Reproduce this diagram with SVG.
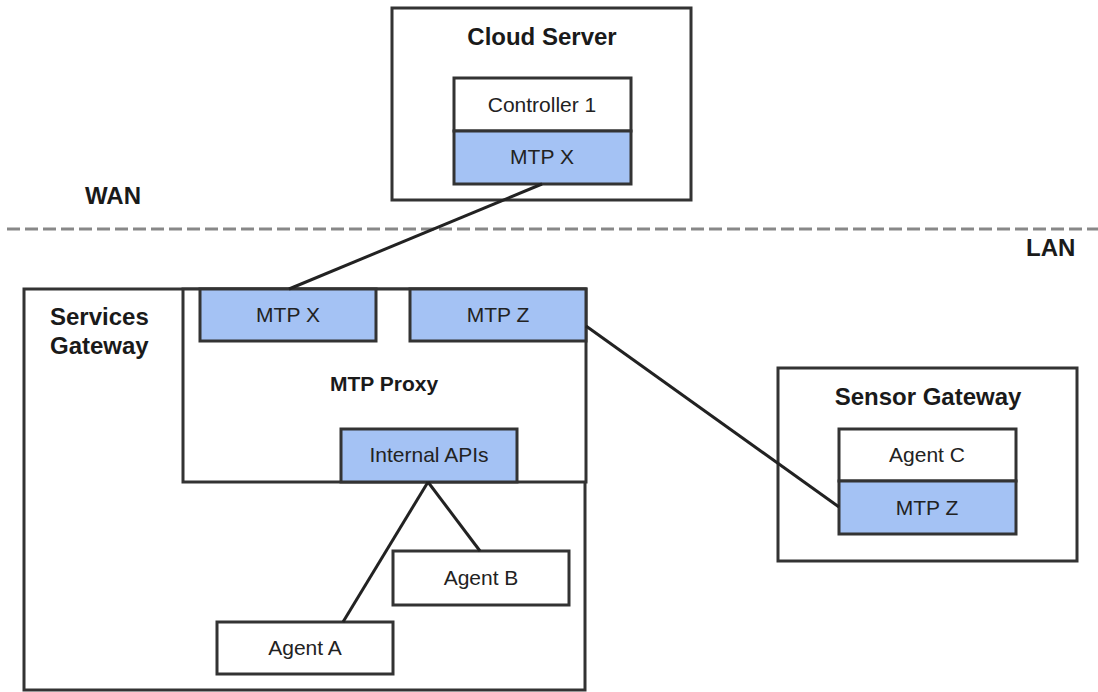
<svg xmlns="http://www.w3.org/2000/svg" width="1098" height="692" viewBox="0 0 1098 692">
<style>
.box{fill:#ffffff;stroke:#333333;stroke-width:3}
.mtp{fill:#a4c2f4;stroke:#333333;stroke-width:3}
.t{font-family:"Liberation Sans",Arial,sans-serif;font-size:21px;fill:#222222;text-anchor:middle}
.b{font-family:"Liberation Sans",Arial,sans-serif;font-weight:bold;font-size:24px;fill:#1a1a1a}
.c{text-anchor:middle}
.link{stroke:#222222;stroke-width:3;fill:none}
</style>
<rect width="1098" height="692" fill="#ffffff"/>
<g id="zones">
<line x1="7" y1="229" x2="1098" y2="229" stroke="#888888" stroke-width="3" stroke-dasharray="13 5"/>
<text class="b" x="85" y="204">WAN</text>
<text class="b" x="1026" y="256">LAN</text>
</g>
<g id="cloud-server">
<rect class="box" x="392" y="8" width="299" height="192"/>
<text class="b c" x="542" y="45">Cloud Server</text>
</g>
<g id="controller-1">
<rect class="box" x="454" y="78" width="177" height="53"/>
<text class="t" x="542" y="112">Controller 1</text>
</g>
<g id="cloud-mtp-x">
<rect class="mtp" x="454" y="131" width="177" height="53"/>
<text class="t" x="542" y="164">MTP X</text>
</g>
<g id="services-gateway">
<rect class="box" x="24" y="289" width="561" height="401"/>
<text class="b" x="50" y="325">Services</text>
<text class="b" x="50" y="354">Gateway</text>
</g>
<g id="mtp-proxy">
<rect class="box" x="183" y="289" width="403" height="193"/>
<text class="b c" x="384" y="391" style="font-size:21px">MTP Proxy</text>
</g>
<g id="proxy-mtp-x">
<rect class="mtp" x="200" y="289" width="176" height="52"/>
<text class="t" x="288" y="322">MTP X</text>
</g>
<g id="proxy-mtp-z">
<rect class="mtp" x="410" y="289" width="176" height="52"/>
<text class="t" x="498" y="322">MTP Z</text>
</g>
<g id="internal-apis">
<rect class="mtp" x="341" y="429" width="176" height="53"/>
<text class="t" x="429" y="462">Internal APIs</text>
</g>
<g id="agent-b">
<rect class="box" x="393" y="551" width="176" height="54"/>
<text class="t" x="481" y="585">Agent B</text>
</g>
<g id="agent-a">
<rect class="box" x="217" y="622" width="176" height="52"/>
<text class="t" x="305" y="655">Agent A</text>
</g>
<g id="sensor-gateway">
<rect class="box" x="778" y="368" width="299" height="193"/>
<text class="b c" x="928" y="405">Sensor Gateway</text>
</g>
<g id="agent-c">
<rect class="box" x="839" y="429" width="177" height="52"/>
<text class="t" x="927" y="462">Agent C</text>
</g>
<g id="sensor-mtp-z">
<rect class="mtp" x="839" y="481" width="177" height="53"/>
<text class="t" x="927" y="515">MTP Z</text>
</g>
<g id="connectors">
<line class="link" x1="542" y1="184" x2="289" y2="289"/>
<line class="link" x1="586" y1="326" x2="839" y2="507"/>
<line class="link" x1="428" y1="482" x2="480" y2="551"/>
<line class="link" x1="428" y1="482" x2="343" y2="622"/>
</g>
</svg>
